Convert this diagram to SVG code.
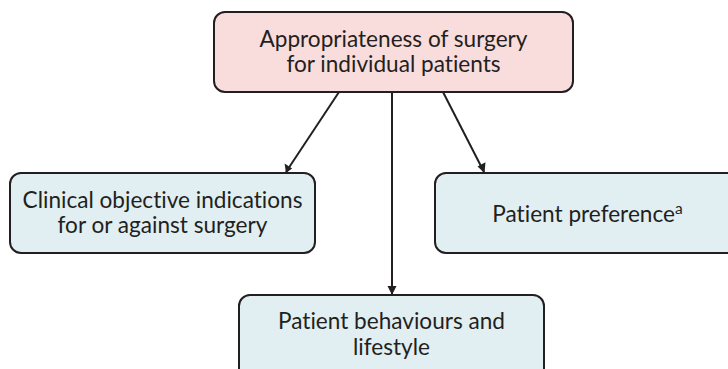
<svg xmlns="http://www.w3.org/2000/svg" width="728" height="369" viewBox="0 0 728 369">
<style>
.box{stroke:#231f20;stroke-width:2}
.top{fill:#f9dcdc}
.sub{fill:#e1eef2}
text{font-family:Lato,"Noto Sans",sans-serif;font-size:22.6px;fill:#231f20;text-anchor:middle;font-variant-ligatures:none}
.conn line{stroke:#231f20;stroke-width:2}
.conn path{fill:#231f20}
</style>
<g class="conn">
<line x1="339" y1="92" x2="286" y2="172"/>
<line x1="392" y1="92" x2="392" y2="294"/>
<line x1="443" y1="92" x2="484" y2="172"/>
<path d="M286,173 L284.6,163.6 L292.1,168.6 z"/>
<path d="M392,295 L387.5,286 L396.5,286 z"/>
<path d="M484.5,173 L477.5,166.4 L485.5,162.3 z"/>
</g>
<g id="n-top">
<rect class="box top" x="214" y="12" width="359" height="80" rx="11"/>
<text x="393.5" y="46.5">Appropriateness of surgery</text>
<text x="393.5" y="72">for individual patients</text>
</g>
<g id="n-clinical">
<rect class="box sub" x="10" y="173" width="305" height="80" rx="11"/>
<text x="162.5" y="207.5">Clinical objective indications</text>
<text x="162.5" y="233">for or against surgery</text>
</g>
<g id="n-pref">
<rect class="box sub" x="435" y="173" width="305" height="80" rx="11"/>
<text x="587.5" y="222">Patient preference<tspan font-size="15.5" dy="-8">a</tspan></text>
</g>
<g id="n-behav">
<rect class="box sub" x="239" y="295" width="305" height="85" rx="11"/>
<text x="391.5" y="329">Patient behaviours and</text>
<text x="391.5" y="355">lifestyle</text>
</g>
</svg>
